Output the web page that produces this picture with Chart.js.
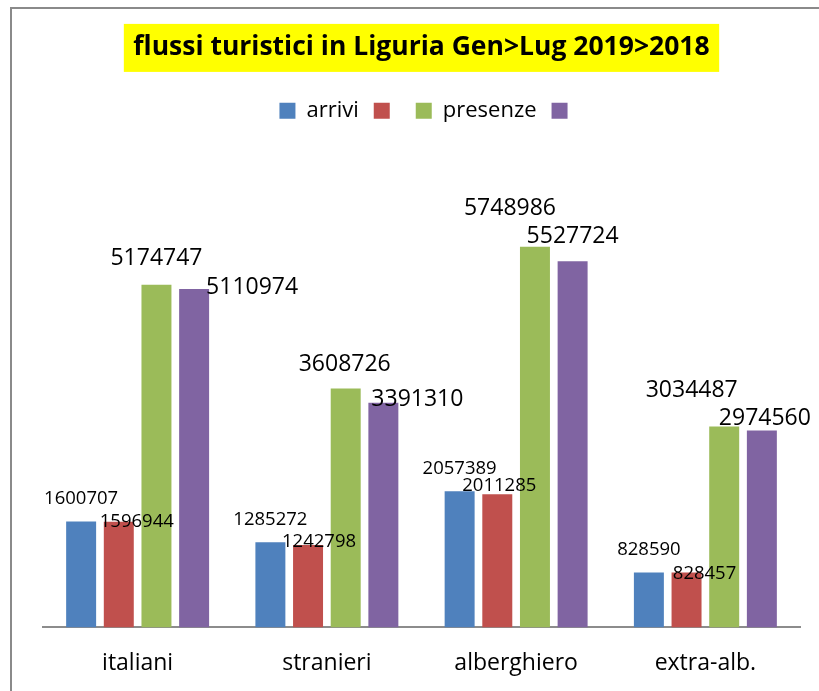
<!DOCTYPE html>
<html>
<head>
<meta charset="utf-8">
<title>flussi turistici in Liguria</title>
<script src="https://cdn.jsdelivr.net/npm/chart.js@4.4.1/dist/chart.umd.min.js"></script>
<style>
    html, body { margin: 0; padding: 0; background: #fff; overflow: hidden; }
    #frame {
        position: absolute; left: 10px; top: 7px;
        width: 807px; height: 704px;
        border-left: 2px solid #8a8a8a; border-top: 2px solid #8a8a8a;
    }
</style>
</head>
<body>
<div id="frame"><canvas id="flussiChart"></canvas></div>
<script>
// --- DATI ---
const titleText = 'flussi turistici in Liguria Gen>Lug 2019>2018';
const categories = ['italiani', 'stranieri', 'alberghiero', 'extra-alb.'];
const seriesNames = ['arrivi', '', 'presenze', ''];
const arrivi2019 = [1600707, 1285272, 2057389, 828590];
const arrivi2018 = [1596944, 1242798, 2011285, 828457];
const presenze2019 = [5174747, 3608726, 5748986, 3034487];
const presenze2018 = [5110974, 3391310, 5527724, 2974560];
const yMax = 7000000;

// Colori (palette Office)
const blue = '#4F81BD';
const red = '#C0504D';
const green = '#9BBB59';
const purple = '#8064A2';
const axisGray = '#8c8c8c';

Chart.defaults.font.family = "'Open Sans', sans-serif";
Chart.defaults.color = '#000';

// etichette dei valori: dimensione e spostamento rispetto alla cima della barra
const labelStyle = [
    { size: 18.5, nudge: [[0, -24], [0, -24], [0, -24], [0, -24]] },
    { size: 18.5, nudge: [[18, -1], [11, -5], [2, -10], [18, 0]] },
    { size: 23, nudge: [[0, -27.5], [-1, -26], [-25, -40], [-32.5, -38]] },
    { size: 23, nudge: [[58, -3], [34, -5], [0, -27], [3, -14]] }
];

const titleSize = 26.5;
const titlePad = { top: 15, bottom: 21 };

// sfondo giallo del titolo + spazio sotto la legenda
const extras = {
    id: 'extras',
    beforeInit(chart) {
        const fit = chart.legend.fit;
        chart.legend.fit = function () {
            fit.call(this);
            this.height += 32;
            // centra la riga senza il padding finale
            const pad = this.options.labels.padding;
            this.lineWidths = this.lineWidths.map(w => w - pad);
        };
    },
    beforeDraw(chart) {
        const t = chart.titleBlock;
        const ctx = chart.ctx;
        ctx.save();
        ctx.font = `bold ${titleSize}px 'Open Sans'`;
        const w = ctx.measureText(titleText).width + 19;
        const cx = (t.left + t.right) / 2;
        const cy = t.top + titlePad.top + titleSize * 1.2 / 2;
        ctx.fillStyle = '#ffff00';
        ctx.fillRect(cx - w / 2, cy - 24, w, 48);
        ctx.restore();
    },
    afterDatasetsDraw(chart) {
        const ctx = chart.ctx;
        ctx.save();
        ctx.fillStyle = '#000';
        ctx.textAlign = 'center';
        ctx.textBaseline = 'alphabetic';
        chart.data.datasets.forEach((ds, i) => {
            const st = labelStyle[i];
            ctx.font = `${st.size}px 'Open Sans'`;
            chart.getDatasetMeta(i).data.forEach((bar, j) => {
                const [dx, dy] = st.nudge[j];
                ctx.fillText(String(ds.data[j]), bar.x + dx, bar.y + dy + st.size * 0.357);
            });
        });
        ctx.restore();
    }
};

const ctx = document.getElementById('flussiChart').getContext('2d');
new Chart(ctx, {
    type: 'bar',
    data: {
        labels: categories,
        datasets: [
            { label: seriesNames[0], data: arrivi2019, backgroundColor: blue },
            { label: seriesNames[1], data: arrivi2018, backgroundColor: red },
            { label: seriesNames[2], data: presenze2019, backgroundColor: green },
            { label: seriesNames[3], data: presenze2018, backgroundColor: purple }
        ]
    },
    options: {
        responsive: true,
        maintainAspectRatio: false,
        animation: false,
        devicePixelRatio: 1,
        layout: { padding: { top: 8, left: 31, right: 19, bottom: 14 } },
        datasets: { bar: { categoryPercentage: 0.796, barPercentage: 0.796, borderWidth: 0 } },
        plugins: {
            title: {
                display: true,
                text: titleText,
                color: '#000',
                font: { size: titleSize, weight: 'bold' },
                padding: titlePad
            },
            legend: {
                display: true,
                position: 'top',
                labels: { boxWidth: 16, boxHeight: 16, padding: 15, font: { size: 22 }, color: '#000' }
            },
            tooltip: { enabled: false }
        },
        scales: {
            x: {
                grid: { display: false, drawTicks: false },
                border: { display: true, color: axisGray, width: 2 },
                ticks: { font: { size: 23 }, color: '#000', padding: 22 }
            },
            y: { display: false, min: 0, max: yMax }
        }
    },
    plugins: [extras]
});
</script>
</body>
</html>
